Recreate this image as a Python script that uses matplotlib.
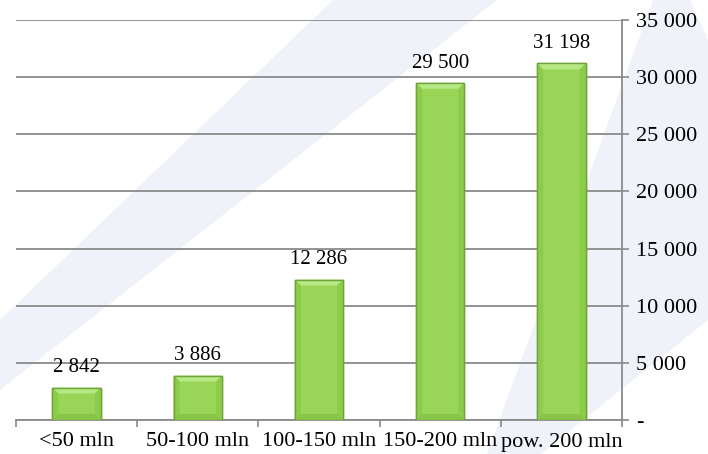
import matplotlib.pyplot as plt
from matplotlib.patches import Polygon
from matplotlib.ticker import FuncFormatter

# data
categories = ["<50 mln", "50-100 mln", "100-150 mln", "150-200 mln", "pow. 200 mln"]
values = [2842, 3886, 12286, 29500, 31198]
y_ticks = [0, 5000, 10000, 15000, 20000, 25000, 30000, 35000]

plt.rcParams['font.family'] = ['Liberation Serif', 'DejaVu Serif']

W, H = 708, 454
fig = plt.figure(figsize=(W / 100, H / 100), dpi=100)

# faint watermark stripes behind the chart (pixel coords, y from top)
stripes = [
    [(333, 0), (497, 0), (0, 390), (0, 320)],
    [(653, 0), (690, 0), (708, 40), (708, 320), (541, 454), (487, 454)],
]
for pts in stripes:
    fig.patches.append(Polygon([(px / W, 1 - py / H) for px, py in pts], closed=True,
                               transform=fig.transFigure, facecolor='#f0f2f9',
                               edgecolor='none', zorder=-5))

ax = fig.add_axes([16 / W, 1 - 420 / H, (622 - 16) / W, (420 - 20) / H])
ax.patch.set_alpha(0)

bar_w = 0.4
x = list(range(len(categories)))
ax.bar(x, values, width=bar_w, color='#99d657', edgecolor='#6ea438',
       linewidth=1.0, zorder=3)

# bevel look: lighter top, slightly darker sides and bottom
bx, by = 0.05, 520
for xi, v in zip(x, values):
    l, r = xi - bar_w / 2, xi + bar_w / 2
    ax.fill([l, r, r - bx, l + bx], [v, v, v - by, v - by], color='#b6e985', lw=0, zorder=4)
    ax.fill([l, l + bx, l + bx, l], [v, v - by, by, 0], color='#8dcb4b', lw=0, zorder=4)
    ax.fill([r, r - bx, r - bx, r], [v, v - by, by, 0], color='#8dcb4b', lw=0, zorder=4)
    ax.fill([l, r, r - bx, l + bx], [0, 0, by, by], color='#88c447', lw=0, zorder=4)
    ax.bar(xi, v, width=bar_w, fill=False, edgecolor='#6ea438', linewidth=1.0, zorder=5)
    ax.annotate(f"{v:,}".replace(",", " "), (xi, v), xytext=(0, 11),
                textcoords='offset points', ha='center', va='baseline',
                fontsize=15, zorder=6)

ax.set_xlim(-0.5, len(categories) - 0.5)
ax.set_ylim(0, 35000)

ax.yaxis.tick_right()
ax.set_yticks(y_ticks)
ax.yaxis.set_major_formatter(FuncFormatter(
    lambda v, p: "-" if v == 0 else f"{int(v):,}".replace(",", " ")))
ax.tick_params(axis='y', direction='out', length=5, width=1.2, color='#8a8a8a',
               labelsize=16, pad=5)
for lbl in ax.get_yticklabels():
    lbl.set_horizontalalignment('left')

ax.set_xticks(x)
ax.set_xticklabels(categories)
ax.set_xticks([i - 0.5 for i in range(len(categories) + 1)], minor=True)
ax.tick_params(axis='x', which='major', length=0, labelsize=16, pad=9)
ax.tick_params(axis='x', which='minor', direction='out', length=5, width=1.2,
               color='#8a8a8a')

ax.grid(axis='y', color='#8a8a8a', linewidth=1.3, zorder=1)
ax.set_axisbelow(True)
for side in ['left', 'top']:
    ax.spines[side].set_visible(False)
for side in ['right', 'bottom']:
    ax.spines[side].set_color('#8a8a8a')
    ax.spines[side].set_linewidth(1.3)

fig.savefig("out.png", dpi=100)
